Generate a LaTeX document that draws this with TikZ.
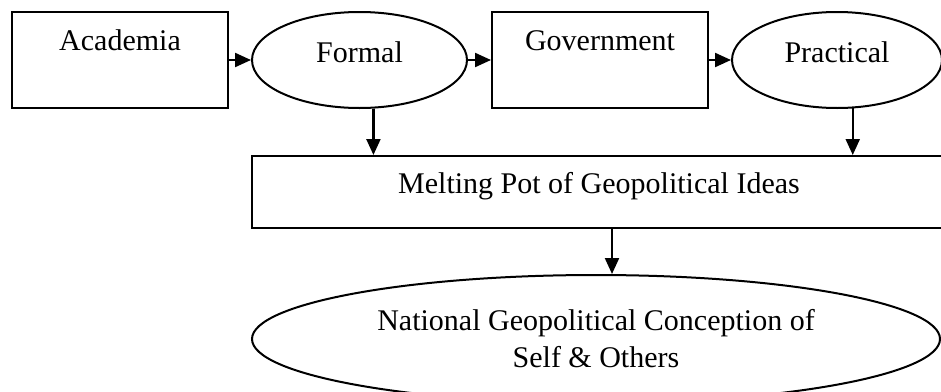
\documentclass[tikz,border=0pt]{standalone}
\usepackage{fontspec}
\setmainfont{Liberation Serif}
\usetikzlibrary{shapes.geometric,arrows.meta,calc}
\begin{document}
\begin{tikzpicture}[x=1pt,y=-1pt,
  every node/.style={font=\fontsize{30}{37}\selectfont, line width=2pt, inner sep=0pt},
  topbox/.style={draw, rectangle, minimum width=216pt, minimum height=96pt, text height=20pt, text depth=40pt},
  oval/.style={draw, ellipse, minimum width=215pt, minimum height=96pt, text height=20pt, text depth=16pt},
  arr/.style={line width=2.2pt, -{Triangle[length=16pt,width=14pt]}}
]
\useasboundingbox (0,0) rectangle (941,391);
\node[topbox] (acad) at (120,60) {Academia};
\node[oval] (formal) at (359.5,60) {Formal};
\node[topbox] (gov) at (600,60) {Government};
\node[oval, minimum width=210pt] (prac) at (837,60) {Practical};
\node[draw, rectangle, minimum width=694pt, minimum height=72pt, text height=20pt, text depth=18pt] (melt) at (599,192) {Melting Pot of Geopolitical Ideas};
\node[draw, ellipse, minimum width=688pt, minimum height=128pt, align=center] (final) at (596,339) {National Geopolitical Conception of\\Self \& Others};
\draw[arr] (acad.east) -- (formal.west);
\draw[arr] (formal.east) -- (gov.west);
\draw[arr] (gov.east) -- (prac.west);
\draw[arr] (formal.-74.7) -- (formal.-74.7 |- melt.north);
\draw[arr] (prac.-72.5) -- (prac.-72.5 |- melt.north);
\draw[arr] ($(melt.south)+(13,0)$) -- ($(final.north)+(16,0)$);
\end{tikzpicture}
\end{document}
